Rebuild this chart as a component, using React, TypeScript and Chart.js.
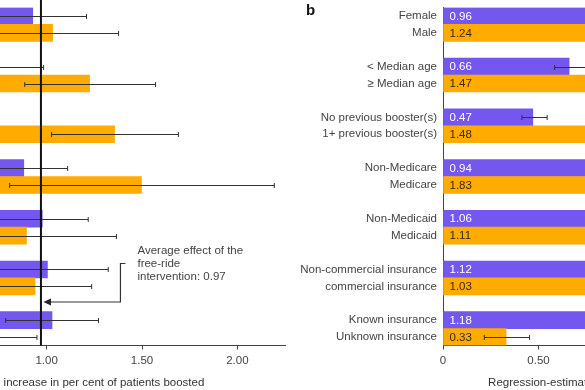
import React, { useEffect, useRef } from 'react';
import { Chart, registerables } from 'chart.js';

Chart.register(...registerables);

const PURPLE = '#7457EF';
const ORANGE = '#FFAB00';
const FONT = 'Liberation Sans';

// Panel a (left) – labels are outside the visible crop
const leftLabels = ['', '', '', '', '', '', '', '', '', '', '', '', '', '', '', '', '', '', '', ''];
const leftValues = [0.927, 1.031, null, 0.55, 1.225, null, 0.35, 1.356, null, 0.88, 1.497, null, 0.977, 0.894, null, 1.004, 0.939, null, 1.028, 0.6];
const leftLow = [0.65, 0.69, null, 0.12, 0.885, null, 0.1, 1.026, null, 0.65, 0.806, null, 0.74, 0.42, null, 0.69, 0.64, null, 0.785, 0.25];
const leftHigh = [1.209, 1.377, null, 0.984, 1.571, null, 0.6, 1.691, null, 1.11, 2.194, null, 1.218, 1.366, null, 1.323, 1.236, null, 1.272, 0.949];

// Panel b (right)
const rightLabels = [
  'Female', 'Male', '',
  '< Median age', '≥ Median age', '',
  'No previous booster(s)', '1+ previous booster(s)', '',
  'Non-Medicare', 'Medicare', '',
  'Non-Medicaid', 'Medicaid', '',
  'Non-commercial insurance', 'commercial insurance', '',
  'Known insurance', 'Unknown insurance',
];
const rightValues = [0.96, 1.24, null, 0.66, 1.47, null, 0.47, 1.48, null, 0.94, 1.83, null, 1.06, 1.11, null, 1.12, 1.03, null, 1.18, 0.33];
const rightLow = [0.8, 1.05, null, 0.584, 1.25, null, 0.413, 1.27, null, 0.78, 1.4, null, 0.88, 0.9, null, 0.93, 0.86, null, 0.96, 0.216];
const rightHigh = [1.13, 1.43, null, 0.75, 1.69, null, 0.545, 1.69, null, 1.1, 2.26, null, 1.24, 1.32, null, 1.31, 1.2, null, 1.4, 0.453];

const xTickValues = [0, 0.5, 1, 1.5, 2];
const AVERAGE_EFFECT = 0.97;
const axisTitle = 'Regression-estimated increase in per cent of patients boosted';
const annotationLines = ['Average effect of the', 'free-ride', 'intervention: 0.97'];

const rowColors = (vals: (number | null)[]) =>
  vals.map((_, i) => (i % 3 === 0 ? PURPLE : ORANGE));

function errorBarPlugin(lows: (number | null)[], highs: (number | null)[]) {
  return {
    id: 'errbars',
    afterDatasetsDraw(chart: any) {
      const meta = chart.getDatasetMeta(0);
      const xs = chart.scales.x;
      const ctx = chart.ctx;
      ctx.save();
      ctx.strokeStyle = '#333';
      ctx.lineWidth = 1;
      meta.data.forEach((bar: any, i: number) => {
        const lo = lows[i];
        const hi = highs[i];
        if (lo == null || hi == null) return;
        const y = Math.round(bar.y) + 0.5;
        const x1 = xs.getPixelForValue(lo);
        const x2 = xs.getPixelForValue(hi);
        ctx.beginPath();
        ctx.moveTo(x1, y);
        ctx.lineTo(x2, y);
        ctx.moveTo(x1, y - 2.5);
        ctx.lineTo(x1, y + 2.5);
        ctx.moveTo(x2, y - 2.5);
        ctx.lineTo(x2, y + 2.5);
        ctx.stroke();
      });
      ctx.restore();
    },
  };
}

function titlePlugin(align: 'left' | 'right', atValue: number) {
  return {
    id: 'xtitle',
    afterDraw(chart: any) {
      const ctx = chart.ctx;
      const xs = chart.scales.x;
      ctx.save();
      ctx.font = `11.5px "${FONT}"`;
      ctx.fillStyle = '#333';
      ctx.textAlign = align;
      ctx.textBaseline = 'middle';
      ctx.fillText(axisTitle, xs.getPixelForValue(atValue), 383);
      ctx.restore();
    },
  };
}

function baseOptions(showLabels: boolean) {
  return {
    indexAxis: 'y' as const,
    responsive: false,
    animation: false as const,
    layout: { padding: { top: 7.5, right: 0, bottom: 0, left: 0 } },
    plugins: { legend: { display: false }, tooltip: { enabled: false } },
    datasets: { bar: { barPercentage: 1, categoryPercentage: 1 } },
    scales: {
      x: {
        type: 'linear' as const,
        min: 0,
        max: 2.25,
        afterBuildTicks(scale: any) {
          scale.ticks = xTickValues.map((v) => ({ value: v }));
        },
        afterFit(scale: any) {
          scale.height = 44.5;
          scale.paddingLeft = 0;
          scale.paddingRight = 0;
        },
        grid: {
          display: true,
          drawOnChartArea: false,
          drawTicks: true,
          tickLength: 4,
          color: '#444',
        },
        border: { display: true, color: '#444', width: 1 },
        ticks: {
          padding: 4,
          color: '#444',
          font: { family: FONT, size: 11.5 },
          callback: (v: any) => (Number(v) === 0 ? '0' : Number(v).toFixed(2)),
          maxRotation: 0,
        },
      },
      y: {
        type: 'category' as const,
        afterFit(scale: any) {
          scale.width = 153;
          scale.paddingTop = 0;
          scale.paddingBottom = 0;
        },
        grid: { display: false, drawTicks: false },
        border: { display: true, color: '#444', width: 1 },
        ticks: {
          display: showLabels,
          padding: 6,
          color: '#444',
          autoSkip: false,
          font: { family: FONT, size: 11.5 },
        },
      },
    },
  };
}

function LeftChart() {
  const ref = useRef<HTMLCanvasElement>(null);
  useEffect(() => {
    const opts: any = baseOptions(false);
    opts.layout.padding.right = 8;
    const avgPlugin = {
      id: 'avg',
      afterDraw(chart: any) {
        const ctx = chart.ctx;
        const xs = chart.scales.x;
        const area = chart.chartArea;
        const xv = xs.getPixelForValue(AVERAGE_EFFECT);
        ctx.save();
        // vertical reference line
        ctx.strokeStyle = '#111';
        ctx.lineWidth = 2;
        ctx.beginPath();
        ctx.moveTo(xv, 0);
        ctx.lineTo(xv, area.bottom);
        ctx.stroke();
        // annotation bracket and arrow
        const top = area.top;
        const yText = top + 256;
        const yArrow = top + 294.5;
        const bx = xv + 79.5;
        ctx.strokeStyle = '#333';
        ctx.lineWidth = 1.2;
        ctx.beginPath();
        ctx.moveTo(bx + 5, yText);
        ctx.lineTo(bx, yText);
        ctx.lineTo(bx, yArrow);
        ctx.lineTo(xv + 8, yArrow);
        ctx.stroke();
        ctx.fillStyle = '#222';
        ctx.beginPath();
        ctx.moveTo(xv + 2.5, yArrow);
        ctx.lineTo(xv + 10, yArrow - 3.5);
        ctx.lineTo(xv + 10, yArrow + 3.5);
        ctx.closePath();
        ctx.fill();
        ctx.font = `11.5px "${FONT}"`;
        ctx.fillStyle = '#444';
        ctx.textAlign = 'left';
        ctx.textBaseline = 'middle';
        annotationLines.forEach((t, i) => {
          ctx.fillText(t, xv + 96.5, top + 243 + i * 13);
        });
        ctx.restore();
      },
    };
    const chart = new Chart(ref.current!, {
      type: 'bar',
      data: {
        labels: leftLabels,
        datasets: [{ data: leftValues as any, backgroundColor: rowColors(leftValues), borderWidth: 0 }],
      },
      options: opts,
      plugins: [errorBarPlugin(leftLow, leftHigh), avgPlugin, titlePlugin('right', 1.827)],
    });
    return () => chart.destroy();
  }, []);
  return (
    <canvas
      ref={ref}
      width={590}
      height={390}
      style={{ position: 'absolute', left: -297, top: 0, width: 590, height: 390 }}
    />
  );
}

function RightChart() {
  const ref = useRef<HTMLCanvasElement>(null);
  useEffect(() => {
    const opts: any = baseOptions(true);
    opts.layout.padding.right = 17;
    const valueLabels = {
      id: 'vlabels',
      afterDatasetsDraw(chart: any) {
        const ctx = chart.ctx;
        const meta = chart.getDatasetMeta(0);
        ctx.save();
        ctx.font = `11.5px "${FONT}"`;
        ctx.textAlign = 'left';
        ctx.textBaseline = 'middle';
        meta.data.forEach((bar: any, i: number) => {
          const v = rightValues[i];
          if (v == null) return;
          ctx.fillStyle = i % 3 === 0 ? '#fff' : '#3a2a00';
          ctx.fillText(v.toFixed(2), bar.base + 6, bar.y + 0.5);
        });
        // panel letter
        ctx.font = `bold 15px "${FONT}"`;
        ctx.fillStyle = '#111';
        ctx.textBaseline = 'alphabetic';
        ctx.fillText('b', 16, 15);
        ctx.restore();
      },
    };
    const chart = new Chart(ref.current!, {
      type: 'bar',
      data: {
        labels: rightLabels,
        datasets: [{ data: rightValues as any, backgroundColor: rowColors(rightValues), borderWidth: 0 }],
      },
      options: opts,
      plugins: [valueLabels, errorBarPlugin(rightLow, rightHigh), titlePlugin('left', 0.236)],
    });
    return () => chart.destroy();
  }, []);
  return (
    <canvas
      ref={ref}
      width={600}
      height={390}
      style={{ position: 'absolute', left: 290, top: 0, width: 600, height: 390 }}
    />
  );
}

export default function App() {
  return (
    <div
      style={{
        position: 'fixed',
        left: 0,
        top: 0,
        width: 585,
        height: 390,
        overflow: 'hidden',
        background: '#fff',
      }}
    >
      <LeftChart />
      <RightChart />
    </div>
  );
}
